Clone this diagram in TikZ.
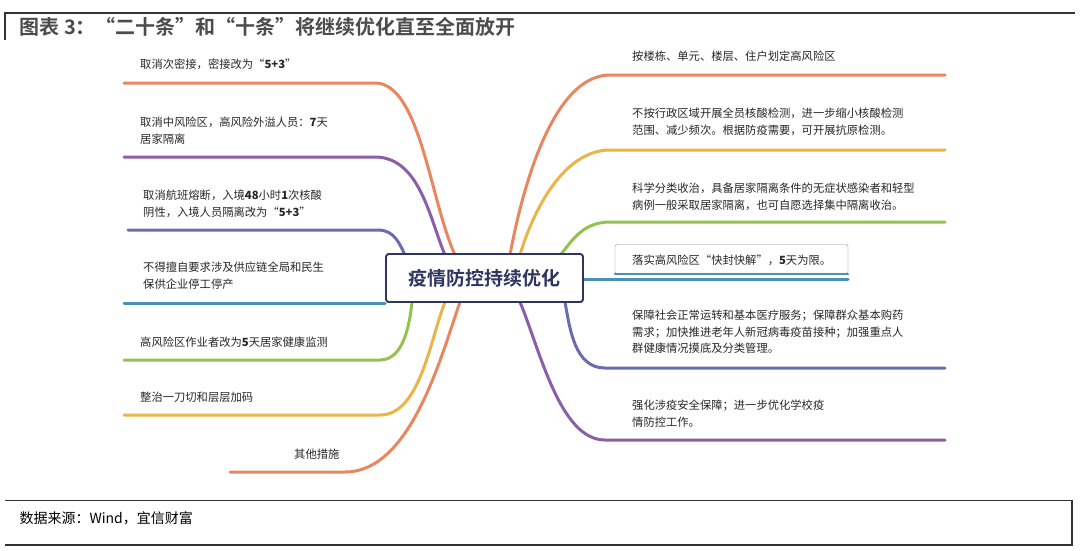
\documentclass[tikz,border=0pt]{standalone}
\usepackage{fontspec}
\setmainfont{Noto Sans CJK SC}
\newfontfamily\cjkb{Noto Sans CJK SC Bold}
\begin{document}
\begin{tikzpicture}[x=1pt,y=-1pt,
 br/.style={line width=3pt,line cap=round},
 lbl/.style={anchor=north west,font=\fontsize{11.3}{16.5}\selectfont,text=black!85,inner sep=0pt,align=left}]
\useasboundingbox (0,0) rectangle (1080,550);
\definecolor{c1}{HTML}{E8875F}\definecolor{c2}{HTML}{8B5FA8}\definecolor{c3}{HTML}{6B6BB0}
\definecolor{c4}{HTML}{4A90B8}\definecolor{c5}{HTML}{94C24E}\definecolor{c6}{HTML}{EAB448}
\definecolor{nv}{HTML}{2E3560}
% frame
\draw[line width=1.5pt,black!80] (5,40) -- (5,13) -- (1075,13);
\node[anchor=west,font=\cjkb\fontsize{20}{20}\selectfont,text=black!70] (title) at (16,27) {图表 3：“二十条”和“十条”将继续优化直至全面放开};
\draw[line width=1pt,black!80] (5,500) -- (1072,500);
\draw[line width=1.5pt,black!80] (5,545) -- (1072,545) -- (1072,500);
\node[anchor=west,font=\fontsize{14}{14}\selectfont] (src) at (16,518) {数据来源：Wind，宜信财富};
% center
\node[draw=nv,line width=1.8pt,rounded corners=3pt,minimum width=197pt,minimum height=48pt,font=\cjkb\fontsize{19}{19}\selectfont,text=nv,fill=white] (c) at (484.5,278) {疫情防控持续优化};
% left branches
\coordinate (l1) at (124,83);\coordinate (l2) at (124,157);\coordinate (l3) at (128,230);
\coordinate (l4) at (124,303);\coordinate (l5) at (124,360);\coordinate (l6) at (124,415);\coordinate (l7) at (230,472);
\draw[br,c1] (l1) -- (375,83) .. controls (420,83) and (430,200) .. (455,255);
\draw[br,c2] (l2) -- (375,157) .. controls (420,157) and (430,220) .. (445,255);
\draw[br,c3] (l3) -- (378,230) .. controls (395,230) and (400,245) .. (405,255);
\draw[br,c4] (l4) -- (c.west|-l4);
\draw[br,c5] (l5) -- (380,360) .. controls (405,360) and (410,320) .. (412,302);
\draw[br,c6] (l6) -- (380,415) .. controls (420,415) and (430,340) .. (445,302);
\draw[br,c1] (l7) -- (345,472) .. controls (410,472) and (440,360) .. (460,302);
% right branches
\draw[br,c1] (945,75) -- (610,75) .. controls (550,75) and (520,200) .. (510,255);
\draw[br,c6] (945,150) -- (610,150) .. controls (560,150) and (530,220) .. (520,255);
\draw[br,c5] (945,222) -- (610,222) .. controls (580,222) and (570,245) .. (560,255);
\draw[br,c3] (945,368) -- (605,368) .. controls (575,368) and (570,330) .. (565,302);
\draw[br,c2] (945,440) -- (605,440) .. controls (560,440) and (540,350) .. (520,302);
\draw[br,c4] (c.east|-0,279) -- (848,279);
\node[draw=nv,line width=1.8pt,rounded corners=3pt,minimum width=197pt,minimum height=48pt,font=\cjkb\fontsize{19}{19}\selectfont,text=nv,fill=white] at (484.5,278) {疫情防控持续优化};
\node[draw=black!45,rounded corners=2pt,minimum width=233pt,minimum height=29pt,fill=white] (bx) at (731.5,259) {};
\draw[br,c4,line width=2pt] (bx.south west) -- (bx.south east);
% labels
\node[lbl] (t1) at (140,59) {取消次密接，密接改为“\textbf{5+3}”};
\node[lbl] (t2) at (140,117) {取消中风险区，高风险外溢人员：\textbf{7}天\\居家隔离};
\node[lbl] (t3) at (143,190) {取消航班熔断，入境\textbf{48}小时\textbf{1}次核酸\\阴性，入境人员隔离改为“\textbf{5+3}”};
\node[lbl] (t4) at (143,262) {不得擅自要求涉及供应链全局和民生\\保供企业停工停产};
\node[lbl] (t5) at (140,337) {高风险区作业者改为\textbf{5}天居家健康监测};
\node[lbl] (t6) at (140,392) {整治一刀切和层层加码};
\node[lbl] (t7) at (294,449) {其他措施};
\node[lbl] (r1) at (632,51) {按楼栋、单元、楼层、住户划定高风险区};
\node[lbl] (r2) at (632,108) {不按行政区域开展全员核酸检测，进一步缩小核酸检测\\范围、减少频次。根据防疫需要，可开展抗原检测。};
\node[lbl] (r3) at (632,183) {科学分类收治，具备居家隔离条件的无症状感染者和轻型\\病例一般采取居家隔离，也可自愿选择集中隔离收治。};
\node[lbl] (r4) at (632,255) {落实高风险区“快封快解”，\textbf{5}天为限。};
\node[lbl] (r5) at (632,310) {保障社会正常运转和基本医疗服务；保障群众基本购药\\需求；加快推进老年人新冠病毒疫苗接种；加强重点人\\群健康情况摸底及分类管理。};
\node[lbl] (r6) at (632,400) {强化涉疫安全保障；进一步优化学校疫\\情防控工作。};
\end{tikzpicture}
\end{document}
